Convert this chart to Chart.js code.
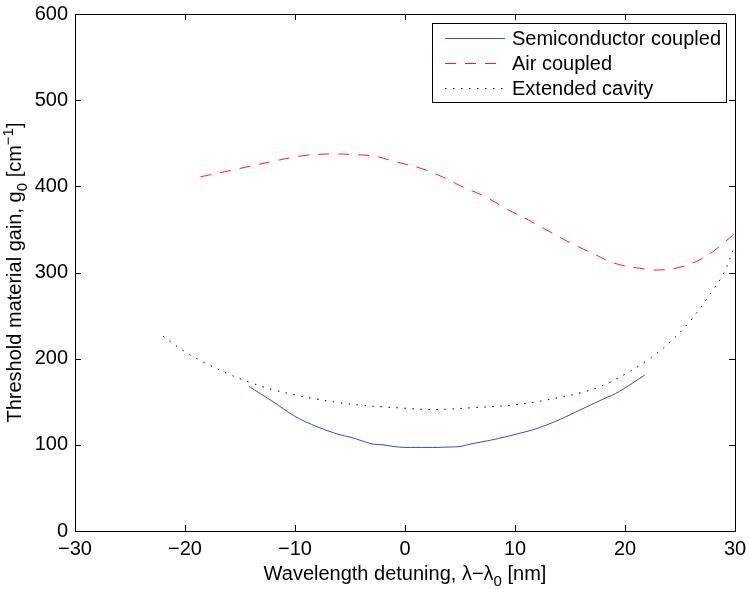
<!DOCTYPE html>
<html>
<head>
<meta charset="utf-8">
<script src="https://cdn.jsdelivr.net/npm/chart.js@4.4.1/dist/chart.umd.min.js"></script>
<style>
  html, body { margin: 0; padding: 0; background: #fff; }
  #wrap { width: 749px; height: 589px; }
</style>
</head>
<body>
<div id="wrap"><canvas id="c" width="749" height="589"></canvas></div>
<script>
// 读图得到的数据
const semiX = [-14.2, -12, -10, -8, -6, -5, -4, -3, -2, -1, 0, 1, 2, 3, 4, 5, 6, 8, 10, 12, 14, 16, 18, 19.5, 21.8];
const semiY = [168, 150, 133, 121, 112, 109, 105, 101, 100, 98, 97, 97, 97, 97, 97.5, 98, 101, 106, 112, 119, 129, 141, 153, 162, 181];

const airX = [-18.6, -16, -12, -9, -6.5, -5, -2.8, -1, 1.4, 3.4, 5.3, 7.3, 9.2, 11.2, 13.2, 15.1, 17.1, 19, 21.3, 23.3, 25.5, 27.5, 29.5, 30];
const airY = [411, 418, 429, 436, 437.5, 437, 435, 429, 421, 411, 399, 388, 374, 361, 347, 334, 322, 311, 305, 303, 308, 320, 340, 346];

const extX = [-22, -20, -18, -16, -14, -12, -10, -8, -6, -4, -2, 0, 2, 4, 6, 8, 10, 12, 14, 16, 18, 20, 22, 24, 26, 28, 29, 30];
const extY = [226, 208, 194, 182, 172, 164, 158, 153, 149, 146, 144, 142.5, 141, 141.5, 143, 144.5, 146.5, 150, 155, 160.5, 169, 182, 198, 218, 245, 280, 300, 332];

const xTicks = [-30, -20, -10, 0, 10, 20, 30];
const yTicks = [0, 100, 200, 300, 400, 500, 600];
const seriesNames = ["Semiconductor coupled", "Air coupled", "Extended cavity"];

// 轴标题，带上下标
const xTitle = [{ t: "Wavelength detuning, \u03bb\u2212\u03bb" }, { t: "0", sub: true }, { t: " [nm]" }];
const yTitle = [{ t: "Threshold material gain, g" }, { t: "0", sub: true }, { t: " [cm" }, { t: "\u22121", sup: true }, { t: "]" }];

const FONT = "'Liberation Sans', Arial, Helvetica, sans-serif";
const FS = 20;

function pts(xs, ys) {
  return xs.map((x, i) => ({ x: x, y: ys[i] }));
}

// 以(0,0)为中心基线画一段带上下标的文字
function drawRich(ctx, segs) {
  const small = Math.round(FS * 0.75);
  const widths = segs.map(s => {
    ctx.font = ((s.sub || s.sup) ? small : FS) + "px " + FONT;
    return ctx.measureText(s.t).width;
  });
  const total = widths.reduce((a, b) => a + b, 0);
  let x = -total / 2;
  segs.forEach((s, i) => {
    ctx.font = ((s.sub || s.sup) ? small : FS) + "px " + FONT;
    const dy = s.sub ? 6 : s.sup ? -8 : 0;
    ctx.fillText(s.t, x, dy);
    x += widths[i];
  });
}

// 画框、朝内的刻度、轴标题和图例
const framePlugin = {
  id: "frame",
  afterDraw(chart) {
    const { ctx, chartArea: a, scales } = chart;
    ctx.save();
    ctx.strokeStyle = "#000";
    ctx.lineWidth = 1;
    ctx.strokeRect(a.left + 0.5, a.top + 0.5, a.right - a.left, a.bottom - a.top);
    const len = 6;
    ctx.beginPath();
    xTicks.forEach(v => {
      const px = Math.round(scales.x.getPixelForValue(v)) + 0.5;
      ctx.moveTo(px, a.bottom); ctx.lineTo(px, a.bottom - len);
      ctx.moveTo(px, a.top); ctx.lineTo(px, a.top + len);
    });
    yTicks.forEach(v => {
      const py = Math.round(scales.y.getPixelForValue(v)) + 0.5;
      ctx.moveTo(a.left, py); ctx.lineTo(a.left + len, py);
      ctx.moveTo(a.right, py); ctx.lineTo(a.right - len, py);
    });
    ctx.stroke();

    ctx.fillStyle = "#000";
    ctx.textBaseline = "alphabetic";
    ctx.textAlign = "left";
    ctx.save();
    ctx.translate((a.left + a.right) / 2, 580);
    drawRich(ctx, xTitle);
    ctx.restore();
    ctx.save();
    ctx.translate(21, (a.top + a.bottom) / 2);
    ctx.rotate(-Math.PI / 2);
    drawRich(ctx, yTitle);
    ctx.restore();

    // 图例
    const bx = 432, by = 23, bw = 294, bh = 79;
    ctx.fillStyle = "#fff";
    ctx.fillRect(bx, by, bw, bh);
    ctx.strokeRect(bx + 0.5, by + 0.5, bw, bh);
    ctx.font = FS + "px " + FONT;
    ctx.textBaseline = "middle";
    chart.data.datasets.forEach((ds, i) => {
      const y = by + 15 + i * 25;
      ctx.save();
      ctx.strokeStyle = ds.borderColor;
      ctx.lineWidth = ds.borderWidth;
      ctx.setLineDash(ds.borderDash || []);
      ctx.beginPath();
      ctx.moveTo(bx + 13, y + 0.5);
      ctx.lineTo(bx + 73, y + 0.5);
      ctx.stroke();
      ctx.restore();
      ctx.fillStyle = "#000";
      ctx.fillText(seriesNames[i], bx + 80, y + 1);
    });
    ctx.restore();
  }
};

const chart = new Chart(document.getElementById("c"), {
  type: "scatter",
  data: {
    datasets: [
      {
        label: seriesNames[0],
        data: pts(semiX, semiY),
        showLine: true,
        borderColor: "#2f4fc0",
        borderWidth: 1,
        pointRadius: 0,
        tension: 0.3,
      },
      {
        label: seriesNames[1],
        data: pts(airX, airY),
        showLine: true,
        borderColor: "#ff1a1a",
        borderWidth: 1,
        borderDash: [11, 9],
        pointRadius: 0,
        tension: 0.4,
      },
      {
        label: seriesNames[2],
        data: pts(extX, extY),
        showLine: true,
        borderColor: "#000",
        borderWidth: 1,
        borderDash: [1.5, 6.5],
        pointRadius: 0,
        tension: 0.4,
      },
    ],
  },
  options: {
    responsive: false,
    animation: false,
    layout: { padding: { top: 14, right: 14, left: 0, bottom: 0 } },
    plugins: {
      legend: { display: false },
      tooltip: { enabled: false },
    },
    scales: {
      x: {
        type: "linear",
        min: -30,
        max: 30,
        afterBuildTicks: s => { s.ticks = xTicks.map(v => ({ value: v })); },
        afterFit: s => { s.height = 58; s.paddingLeft = 0; s.paddingRight = 0; },
        grid: { display: false, drawTicks: false },
        border: { display: false },
        ticks: {
          padding: 6,
          color: "#000",
          font: { family: FONT, size: FS },
          callback: v => String(v).replace("-", "\u2212"),
        },
      },
      y: {
        type: "linear",
        min: 0,
        max: 600,
        afterBuildTicks: s => { s.ticks = yTicks.map(v => ({ value: v })); },
        afterFit: s => { s.width = 75; s.paddingTop = 0; s.paddingBottom = 0; },
        grid: { display: false, drawTicks: false },
        border: { display: false },
        ticks: {
          padding: 7,
          color: "#000",
          font: { family: FONT, size: FS },
        },
      },
    },
  },
  plugins: [framePlugin],
});
</script>
</body>
</html>
